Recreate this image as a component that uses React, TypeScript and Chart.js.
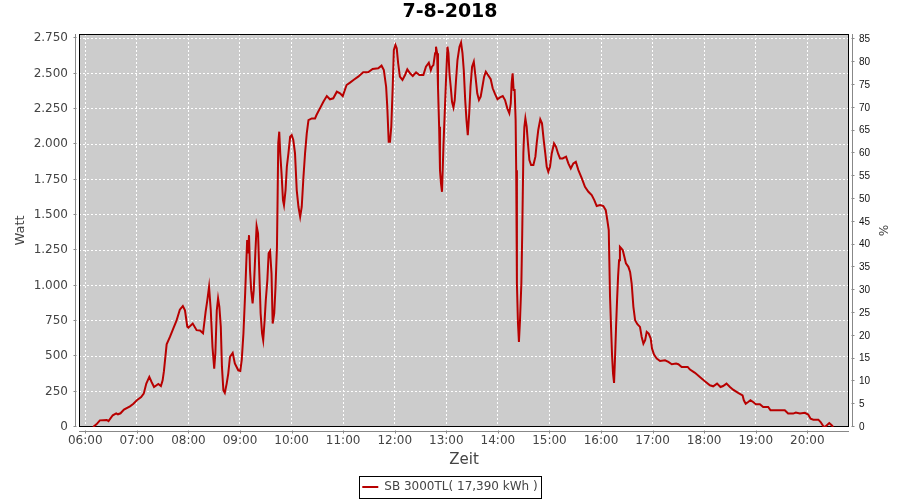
import React, { useEffect, useRef } from "react";
import { Chart, registerables } from "chart.js";

Chart.register(...registerables);

const chartTitle = "7-8-2018";
const seriesLabel = "SB 3000TL( 17,390 kWh )";
const xTitle = "Zeit";
const yTitle = "Watt";
const y2Title = "%";

const hourTicks = [
  "06:00", "07:00", "08:00", "09:00", "10:00", "11:00", "12:00", "13:00",
  "14:00", "15:00", "16:00", "17:00", "18:00", "19:00", "20:00",
];
const wattTicks = [0, 250, 500, 750, 1000, 1250, 1500, 1750, 2000, 2250, 2500, 2750];
const percentTicks = [0, 5, 10, 15, 20, 25, 30, 35, 40, 45, 50, 55, 60, 65, 70, 75, 80, 85];

const times = [
  "06:09:00", "06:13:00", "06:17:00", "06:25:00", "06:27:00", "06:32:00", "06:36:00", "06:38:00",
  "06:41:00", "06:45:00", "06:52:00", "06:56:00", "07:00:00", "07:05:00", "07:08:00", "07:11:00",
  "07:14:30", "07:17:00", "07:20:00", "07:25:00", "07:28:00", "07:30:00", "07:31:30", "07:34:40",
  "07:38:30", "07:42:00", "07:46:00", "07:50:00", "07:53:30", "07:56:00", "07:58:40", "08:00:00",
  "08:05:00", "08:09:30", "08:13:30", "08:17:00", "08:20:00", "08:22:00", "08:24:00", "08:26:00",
  "08:28:00", "08:30:00", "08:31:20", "08:33:00", "08:34:30", "08:36:00", "08:37:40", "08:39:00",
  "08:40:40", "08:42:20", "08:44:30", "08:46:20", "08:48:20", "08:51:30", "08:54:00", "08:58:00",
  "09:00:20", "09:02:00", "09:04:00", "09:06:00", "09:07:00", "09:08:20", "09:09:20", "09:10:30",
  "09:11:40", "09:13:00", "09:14:40", "09:16:00", "09:17:50", "09:19:20", "09:21:00", "09:22:30",
  "09:24:00", "09:25:40", "09:27:00", "09:28:40", "09:30:00", "09:31:50", "09:33:20", "09:35:00",
  "09:36:40", "09:38:00", "09:39:50", "09:41:20", "09:43:00", "09:43:40", "09:44:30", "09:45:40",
  "09:46:50", "09:48:20", "09:50:00", "09:51:10", "09:53:00", "09:54:30", "09:56:20", "09:58:20",
  "10:00:10", "10:02:00", "10:04:00", "10:06:00", "10:08:00", "10:10:00", "10:11:50", "10:13:50",
  "10:15:40", "10:17:40", "10:19:40", "10:23:30", "10:27:20", "10:29:00", "10:33:00", "10:37:00",
  "10:41:00", "10:44:40", "10:48:30", "10:52:40", "10:56:20", "10:59:30", "11:04:00", "11:08:00",
  "11:12:00", "11:17:30", "11:23:20", "11:29:00", "11:34:20", "11:40:50", "11:44:40", "11:47:20",
  "11:50:00", "11:51:20", "11:53:00", "11:54:30", "11:56:00", "11:57:40", "11:59:00", "12:00:50",
  "12:02:20", "12:04:00", "12:06:00", "12:09:00", "12:12:00", "12:14:40", "12:17:50", "12:21:00",
  "12:24:50", "12:28:40", "12:33:20", "12:36:20", "12:39:40", "12:42:00", "12:43:20", "12:45:00",
  "12:47:00", "12:48:00", "12:49:20", "12:50:20", "12:51:40", "12:52:40", "12:53:50", "12:55:00",
  "12:56:40", "12:58:10", "12:59:40", "13:01:20", "13:02:30", "13:03:40", "13:05:10", "13:06:40",
  "13:08:20", "13:09:50", "13:11:20", "13:13:00", "13:15:20", "13:17:10", "13:18:50", "13:20:20",
  "13:22:00", "13:23:30", "13:25:00", "13:26:40", "13:28:10", "13:30:00", "13:32:00", "13:34:00",
  "13:36:00", "13:38:00", "13:40:00", "13:42:00", "13:44:00", "13:46:00", "13:48:30", "13:51:40",
  "13:54:00", "13:56:40", "13:59:30", "14:02:30", "14:05:40", "14:08:20", "14:11:00", "14:13:20",
  "14:15:00", "14:16:00", "14:17:10", "14:18:20", "14:19:30", "14:20:40", "14:21:20", "14:22:10",
  "14:23:20", "14:24:30", "14:25:40", "14:27:20", "14:28:20", "14:29:40", "14:30:50", "14:32:00",
  "14:33:30", "14:35:00", "14:36:40", "14:38:40", "14:41:20", "14:43:40", "14:45:10", "14:47:00",
  "14:49:20", "14:51:20", "14:53:20", "14:55:10", "14:56:50", "14:58:40", "15:00:40", "15:02:40",
  "15:05:20", "15:07:40", "15:10:00", "15:12:20", "15:15:20", "15:19:20", "15:22:00", "15:24:50",
  "15:27:50", "15:30:40", "15:33:40", "15:37:40", "15:41:20", "15:45:20", "15:49:10", "15:52:10",
  "15:55:00", "15:58:50", "16:02:40", "16:05:30", "16:07:20", "16:09:00", "16:09:40", "16:10:30",
  "16:11:40", "16:12:50", "16:14:00", "16:15:10", "16:16:20", "16:17:30", "16:18:40", "16:19:50",
  "16:21:00", "16:22:00", "16:23:40", "16:25:20", "16:27:10", "16:29:00", "16:31:50", "16:33:50",
  "16:35:40", "16:37:40", "16:39:40", "16:42:20", "16:45:20", "16:47:20", "16:49:20", "16:51:20",
  "16:53:10", "16:55:30", "16:57:50", "16:59:20", "17:01:40", "17:04:50", "17:08:40", "17:14:30",
  "17:18:20", "17:22:20", "17:27:20", "17:30:00", "17:33:50", "17:40:50", "17:43:30", "17:49:20",
  "17:55:00", "18:00:50", "18:06:40", "18:10:30", "18:15:00", "18:19:00", "18:22:00", "18:26:00",
  "18:30:00", "18:33:40", "18:39:30", "18:44:40", "18:46:10", "18:48:20", "18:51:10", "18:53:50",
  "18:57:00", "19:00:10", "19:04:50", "19:08:40", "19:14:30", "19:17:10", "19:28:00", "19:33:50",
  "19:37:40", "19:43:30", "19:46:40", "19:51:20", "19:57:10", "20:01:00", "20:03:50", "20:07:00",
  "20:12:50", "20:15:30", "20:18:40", "20:20:30", "20:25:30", "20:28:20", "20:30:00",
];

const watts = [
  0, 19, 47, 50, 42, 83, 97, 90,
  97, 123, 146, 165, 189, 212, 236, 307,
  354, 320, 283, 304, 290, 330, 395, 585,
  637, 690, 750, 830, 855, 825, 710, 703,
  732, 685, 683, 663, 814, 897, 991, 826,
  566, 413, 520, 826, 909, 850, 708, 425,
  260, 241, 307, 378, 496, 524, 449, 401,
  397, 472, 661, 944, 1109, 1322, 1228, 1357,
  1109, 968, 874, 968, 1228, 1421, 1369, 1086,
  803, 663, 614, 755, 897, 1039, 1228, 1245,
  1086, 732, 803, 991, 1274, 1581, 2006, 2089,
  1935, 1794, 1605, 1570, 1676, 1841, 1935, 2053,
  2065, 2030, 1935, 1676, 1558, 1487, 1558, 1770,
  1935, 2077, 2171, 2183, 2183, 2207, 2254, 2301,
  2341, 2318, 2325, 2372, 2360, 2341, 2419, 2436,
  2455, 2478, 2509, 2509, 2533, 2537, 2556, 2525,
  2407, 2266, 2018, 2018, 2124, 2407, 2667, 2702,
  2679, 2573, 2478, 2455, 2490, 2530, 2502, 2483,
  2509, 2490, 2490, 2549, 2577, 2525, 2549, 2560,
  2644, 2690, 2644, 2407, 2124, 1817, 1723, 1664,
  1982, 2219, 2455, 2690, 2644, 2502, 2407, 2301,
  2261, 2313, 2455, 2596, 2690, 2719, 2644, 2525,
  2313, 2171, 2065, 2219, 2407, 2549, 2584, 2478,
  2360, 2313, 2337, 2407, 2478, 2513, 2490, 2460,
  2396, 2356, 2318, 2332, 2341, 2313, 2254, 2219,
  2290, 2431, 2502, 2384, 2384, 2171, 1817, 1015,
  743, 602, 743, 1015, 1369, 1935, 2124, 2183,
  2124, 2006, 1888, 1853, 1853, 1912, 2006, 2101,
  2176, 2148, 2030, 1935, 1841, 1805, 1841, 1935,
  2006, 1982, 1935, 1900, 1900, 1912, 1865, 1829,
  1865, 1876, 1817, 1759, 1699, 1664, 1640, 1605,
  1563, 1570, 1563, 1534, 1464, 1393, 1180, 920,
  708, 508, 378, 312, 496, 708, 897, 1062,
  1180, 1274, 1263, 1251, 1204, 1157, 1133, 1097,
  1015, 850, 755, 727, 708, 637, 590, 614,
  673, 661, 626, 555, 512, 484, 467, 472,
  460, 444, 449, 444, 425, 425, 406, 383,
  354, 323, 295, 288, 307, 283, 290, 307,
  283, 264, 241, 224, 189, 165, 177, 189,
  177, 161, 161, 142, 142, 118, 118, 118,
  95, 95, 102, 95, 100, 88, 59, 52,
  52, 35, 5, 0, 28, 12, 0,
];

const toMin = (t: string): number => {
  const [h, m, s = "0"] = t.split(":");
  return Number(h) * 60 + Number(m) + Number(s) / 60;
};
const fmtDe = (v: number): string =>
  Math.round(v).toString().replace(/\B(?=(\d{3})+(?!\d))/g, ".");

const framePlugin = {
  id: "jfreeFrame",
  beforeDraw(chart: any) {
    const { ctx, chartArea: a } = chart;
    ctx.save();
    ctx.fillStyle = "#cccccc";
    ctx.fillRect(a.left, a.top, a.right - a.left, a.bottom - a.top);
    ctx.restore();
  },
  beforeDatasetsDraw(chart: any) {
    const { ctx, chartArea: a } = chart;
    ctx.save();
    ctx.strokeStyle = "#000000";
    ctx.lineWidth = 1;
    ctx.strokeRect(a.left + 0.5, a.top + 0.5, a.right - a.left - 1, a.bottom - a.top - 1);
    ctx.restore();
  },
  afterDraw(chart: any) {
    const { ctx, chartArea: a, scales } = chart;
    ctx.save();
    ctx.strokeStyle = "#888888";
    ctx.lineWidth = 1;
    ctx.beginPath();
    const lx = a.left - 3.5;
    ctx.moveTo(lx, a.top);
    ctx.lineTo(lx, a.bottom);
    scales.y.ticks.forEach((t: any) => {
      const p = Math.round(scales.y.getPixelForValue(t.value)) - 0.5;
      ctx.moveTo(lx - 2, p);
      ctx.lineTo(lx + 1, p);
    });
    const rx = a.right + 3.5;
    ctx.moveTo(rx, a.top);
    ctx.lineTo(rx, a.bottom);
    scales.y1.ticks.forEach((t: any) => {
      const p = Math.round(scales.y1.getPixelForValue(t.value)) - 0.5;
      ctx.moveTo(rx - 1, p);
      ctx.lineTo(rx + 2, p);
    });
    const by = a.bottom + 4.5;
    ctx.moveTo(a.left, by);
    ctx.lineTo(a.right, by);
    scales.x.ticks.forEach((t: any) => {
      const p = Math.round(scales.x.getPixelForValue(t.value)) + 0.5;
      ctx.moveTo(p, by - 1);
      ctx.lineTo(p, by + 2);
    });
    ctx.stroke();

    const hb = chart.legend && chart.legend.legendHitBoxes && chart.legend.legendHitBoxes[0];
    if (hb) {
      const cy = hb.top + hb.height / 2;
      ctx.strokeStyle = "#000000";
      ctx.strokeRect(Math.round(hb.left - 3) + 0.5, Math.round(cy - 11) + 0.5, Math.round(hb.width + 7), 22);
    }
    ctx.restore();
  },
};

export default function App() {
  const canvasRef = useRef<HTMLCanvasElement | null>(null);

  useEffect(() => {
    if (!canvasRef.current) return;
    Chart.defaults.font.family = "'DejaVu Sans', sans-serif";
    const points = times.map((t, i) => ({ x: toMin(t), y: watts[i] }));
    const chart = new Chart(canvasRef.current, {
      type: "line",
      data: {
        datasets: [
          {
            label: seriesLabel,
            data: points,
            borderColor: "#b80000",
            backgroundColor: "#b80000",
            borderWidth: 2,
            pointRadius: 0,
            tension: 0,
            fill: false,
            yAxisID: "y",
          },
        ],
      },
      options: {
        responsive: false,
        animation: false,
        devicePixelRatio: 1,
        layout: { padding: { left: 0, right: 0, top: 0, bottom: -3 } },
        plugins: {
          title: {
            display: true,
            text: chartTitle,
            color: "#000000",
            font: { size: 19, weight: "bold" },
            padding: { top: 1, bottom: 10.2 },
          },
          legend: {
            position: "bottom",
            labels: {
              color: "#444444",
              font: { size: 12 },
              usePointStyle: true,
              pointStyle: "line",
              pointStyleWidth: 16,
              padding: 10,
            },
          },
          tooltip: { enabled: false },
        },
        scales: {
          x: {
            type: "linear",
            min: 352.7,
            max: 1248.5,
            afterBuildTicks: (scale: any) => {
              scale.ticks = hourTicks.map((h) => ({ value: toMin(h) }));
            },
            afterFit: (scale: any) => {
              scale.height = 44;
            },
            ticks: {
              callback: (_v: any, i: number) => hourTicks[i],
              color: "#444444",
              font: { size: 12 },
              padding: 7,
              maxRotation: 0,
              autoSkip: false,
            },
            grid: { color: "#ffffff", lineWidth: 1, drawTicks: false },
            border: { display: false, dash: [2, 2] },
            title: {
              display: true,
              text: xTitle,
              color: "#444444",
              font: { size: 15 },
              padding: { top: 0, bottom: 2.3 },
            },
          },
          y: {
            type: "linear",
            position: "left",
            min: 0,
            max: 2780,
            afterBuildTicks: (scale: any) => {
              scale.ticks = wattTicks.map((v) => ({ value: v }));
            },
            afterFit: (scale: any) => {
              scale.width = 79;
            },
            ticks: {
              callback: (v: any) => fmtDe(Number(v)),
              color: "#444444",
              font: { size: 12 },
              padding: 11,
              autoSkip: false,
            },
            grid: {
              color: (c: any) => (c.tick && c.tick.value === 0 ? "rgba(0,0,0,0)" : "#ffffff"),
              lineWidth: 1,
              drawTicks: false,
            },
            border: { display: false, dash: [2, 2] },
            title: {
              display: true,
              text: yTitle,
              color: "#444444",
              font: { size: 13 },
              padding: { top: 12.7, bottom: 0 },
            },
          },
          y1: {
            type: "linear",
            position: "right",
            min: 0,
            max: 86.2,
            afterBuildTicks: (scale: any) => {
              scale.ticks = percentTicks.map((v) => ({ value: v }));
            },
            afterFit: (scale: any) => {
              scale.width = 51;
            },
            ticks: {
              callback: (v: any) => String(v),
              color: "#111111",
              font: { family: "'Liberation Sans', sans-serif", size: 10 },
              padding: 10,
              autoSkip: false,
            },
            grid: { display: false, drawTicks: false },
            border: { display: false },
            title: {
              display: true,
              text: y2Title,
              color: "#444444",
              font: { size: 12 },
              padding: { top: 10.8, bottom: 0 },
            },
          },
        },
      },
      plugins: [framePlugin],
    } as any);
    return () => chart.destroy();
  }, []);

  return (
    <div style={{ position: "fixed", left: 0, top: 0, width: 900, height: 500, background: "#ffffff" }}>
      <canvas ref={canvasRef} width={900} height={500} style={{ display: "block" }} />
    </div>
  );
}
